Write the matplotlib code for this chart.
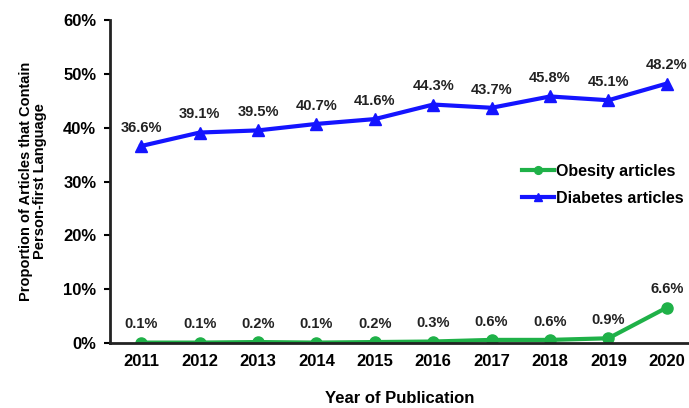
import matplotlib.pyplot as plt

# data
years = [2011, 2012, 2013, 2014, 2015, 2016, 2017, 2018, 2019, 2020]
obesity = [0.1, 0.1, 0.2, 0.1, 0.2, 0.3, 0.6, 0.6, 0.9, 6.6]
diabetes = [36.6, 39.1, 39.5, 40.7, 41.6, 44.3, 43.7, 45.8, 45.1, 48.2]
y_ticks = [0, 10, 20, 30, 40, 50, 60]

plt.rcParams['font.family'] = ['Liberation Sans', 'DejaVu Sans']
plt.rcParams['font.weight'] = 'bold'

fig = plt.figure(figsize=(6.89, 4.08), dpi=100)
ax = fig.add_axes([0.160, 0.159, 0.840, 0.792])

green = '#1fb148'
blue = '#1414ff'
ax.plot(years, obesity, color=green, lw=3, marker='o', ms=8, label='Obesity articles')
ax.plot(years, diabetes, color=blue, lw=3, marker='^', ms=8, label='Diabetes articles')

# value labels above each point
for x, v in zip(years, obesity):
    ax.annotate(f'{v:.1f}%', (x, v), xytext=(0, 8), textcoords='offset points',
                ha='center', va='bottom', fontsize=10.5, fontweight='bold', color='#222222')
for x, v in zip(years, diabetes):
    ax.annotate(f'{v:.1f}%', (x, v), xytext=(0, 8), textcoords='offset points',
                ha='center', va='bottom', fontsize=10.5, fontweight='bold', color='#222222')

ax.set_xlim(2010.47, 2020.38)
ax.set_ylim(0, 60)
ax.set_xticks(years)
ax.set_yticks(y_ticks)
ax.set_yticklabels([f'{t}%' for t in y_ticks])
ax.tick_params(axis='x', length=0, pad=8, labelsize=12)
ax.tick_params(axis='y', length=4, width=1.5, pad=6, labelsize=12)

for s in ['top', 'right']:
    ax.spines[s].set_visible(False)
for s in ['left', 'bottom']:
    ax.spines[s].set_linewidth(2)
    ax.spines[s].set_color('#222222')

ax.set_xlabel('Year of Publication', fontsize=12, fontweight='bold', labelpad=16)
ax.set_ylabel('Proportion of Articles that Contain\nPerson-first Language', fontsize=10.5,
              fontweight='bold', labelpad=12, linespacing=1.0)

ax.legend(loc='upper left', bbox_to_anchor=(0.695, 0.585), frameon=False, fontsize=11.5,
          handlelength=2.0, handletextpad=0.1, labelspacing=0.75, markerscale=0.7,
          borderaxespad=0.2)

plt.savefig('out.png', dpi=100)
